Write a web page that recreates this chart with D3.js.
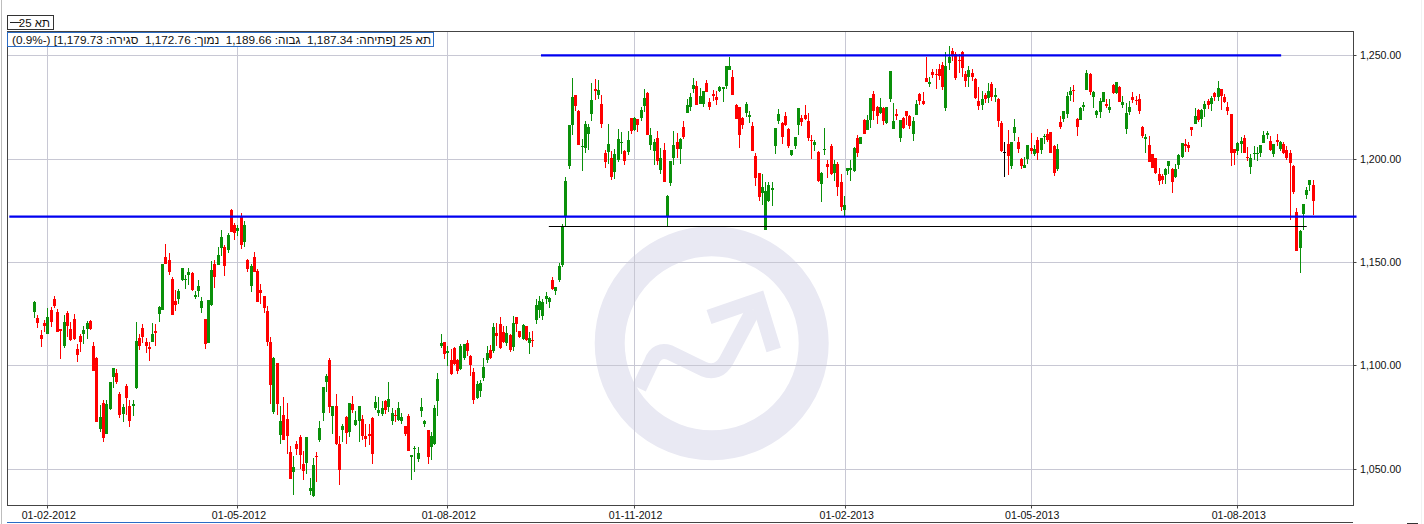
<!DOCTYPE html>
<html lang="he">
<head>
<meta charset="utf-8">
<title>TA-25 candlestick chart</title>
<script src="https://cdn.jsdelivr.net/npm/d3@7/dist/d3.min.js"></script>
<style>
html,body{margin:0;padding:0;background:#fff;}
svg{display:block;}
text{font-family:"Liberation Sans",Arial,sans-serif;fill:#111;}
</style>
</head>
<body>
<svg id="chart" width="1424" height="524"></svg>
<script>
const open = [
1126,1123.1,1114.7,1120.5,1115.2,1126.8,1132.1,1125.8,1117.6,1109.4,
1125.3,1117.4,1122.4,1107.9,1114.2,1115.2,1117.6,1121.5,1109.4,1103.5,
1069.2,1081.8,1066.8,1078.9,1094.4,1096.3,1086.1,1076.5,1090,1080.3,
1080.3,1089,1113.2,1118.1,1111.3,1108.9,1111.3,1116.6,1124.8,1126.8,
1152.4,1151,1141.8,1131.1,1132.1,1141.3,1141.3,1143.7,1144.7,1133.1,
1136,1127.7,1122.4,1110.8,1129.2,1149,1148.5,1156.8,1157.3,1155.8,
1175.2,1167.9,1165,1172.3,1159.7,1151,1138.4,1152.4,1145.6,1136.5,
1133.5,1126.3,1111.3,1077.4,1101.1,1066.3,1076,1074,1058.1,1048.4,
1061.9,1065.3,1052.3,1052.7,1039.2,1036.8,1056.1,1063.9,1076.9,1091.9,
1102.6,1075.5,1080.3,1061.9,1068.7,1075,1067.7,1081.3,1071.1,1073.1,
1074,1065.8,1066.8,1074.5,1079.4,1076.9,1076.5,1082.7,1079.8,1073.1,
1076,1073.5,1073.1,1070.6,1075.5,1055.6,1059.5,1054.7,1077.9,1071.6,
1068.7,1060.5,1061.9,1082.7,1109.4,1111.3,1106,1102.6,1108.4,1102.6,
1098.2,1103.5,1110.8,1104.6,1096.8,1084.1,1087.6,1093.9,1102.6,1107.5,
1107,1115.7,1120,1116.2,1110.8,1114.7,1108.9,1123.4,1116.7,1112.8,
1119.1,1110.8,1112.3,1122,1126.8,1123.9,1132.1,1130.7,1141.3,1136,
1141.3,1148.6,1171.8,1196.5,1216.3,1230.9,1223.1,1205.7,1205.2,1212,
1221.7,1233.8,1230.9,1226.5,1202.8,1203.3,1200.4,1193.6,1199.4,1207.6,
1203.8,1203.3,1219.7,1213.9,1219.2,1219.7,1225.5,1231.8,1206.7,1203.8,
1210,1194.6,1204.2,1172.1,1188.1,1200.2,1208,1204.6,1215.2,1222,
1224.9,1233.6,1235,1226.3,1226.3,1236.5,1227.3,1231.2,1229.7,1232.6,
1233.6,1235,1242.8,1239.4,1225.9,1224.9,1219.6,1222,1220,1215.7,
1201.2,1192.9,1183.3,1165.4,1179.4,1184.7,1206,1218.1,1217.1,1220.5,
1214.2,1201.7,1206,1216.2,1219.6,1221,1218.1,1208.9,1206.5,1203.1,
1187.6,1204.1,1197.3,1206,1192.9,1197.3,1188.6,1175,1193.9,1194.4,
1193.9,1209.9,1207,1218.6,1213.8,1218.6,1231.2,1224.9,1222,1224.4,
1217.1,1228.8,1214.2,1221.5,1209.9,1219.6,1222.9,1220.5,1211.8,1221,
1231.2,1227.8,1238.9,1236,1241.8,1240.8,1243.3,1245.2,1224.4,1246.2,
1252,1250.5,1247.6,1251.5,1240.8,1239.4,1241.3,1238.4,1227.8,1225.9,
1230.7,1229.2,1236,1229.7,1228.8,1217.1,1203.3,1207,1196.3,1212.3,
1207.9,1199.7,1195.4,1199.7,1205,1202.1,1208.9,1204.1,1210.4,1211.8,
1212.8,1206,1194.9,1217.6,1219.1,1221.5,1230.7,1233.1,1219.1,1218.6,
1224.9,1233.1,1240.8,1229.7,1221,1222.5,1227.3,1226.5,1223.6,1235.7,
1231.8,1234.7,1226,1214.4,1222.6,1229.9,1228.4,1228.9,1215.4,1209.6,
1206.7,1202.3,1200.4,1192.6,1191.7,1192.1,1196.5,1195,1191.2,1197,
1200.9,1207.1,1206.7,1215.4,1216.8,1223.6,1219.2,1224.1,1228,1226.5,
1231.8,1229.9,1233.8,1229.9,1225,1221.7,1204.7,1203.8,1207.1,1210,
1200.9,1196,1202.3,1202.3,1202.8,1207.6,1211.5,1208.6,1202.3,1209.1,
1204.7,1207.1,1204.2,1202.8,1196.5,1174.2,1156.8,1173.3,1182.5,1187.3,
1187.34];

const high = [
1131.1,1124.4,1117.1,1121.9,1127.6,1128.1,1133.5,1127.3,1117.6,1124.2,
1126.1,1121,1124.8,1110.3,1115.2,1119,1121.5,1121.9,1111.3,1104,
1080.8,1083.2,1083.2,1091.9,1098.7,1098.2,1087.1,1081.3,1091,1083.2,
1083.2,1121,1115.2,1120,1113.2,1111.3,1120.5,1120,1128.7,1149,
1158.7,1154.4,1142.7,1136.5,1136.9,1147.1,1143.7,1147.1,1145.2,1136,
1141.3,1133.1,1122.4,1131.6,1150.5,1151,1157.3,1165.5,1158.2,1164,
1175.6,1168.9,1167.9,1173.7,1169.8,1151.5,1149,1154.8,1146.6,1139.4,
1133.5,1128.7,1113.7,1104,1101.1,1080.3,1084.7,1081.8,1061,1056.1,
1063.4,1066.3,1058.5,1065.3,1045.5,1055.2,1058.1,1073.1,1089.5,1095.8,
1103.5,1080.3,1086.1,1065.8,1071.6,1075.5,1081.8,1085.2,1077.9,1080.3,
1076,1071.6,1071.6,1075,1085.2,1084.7,1082.7,1083.2,1091.9,1079.4,
1078.4,1082.3,1076.9,1070.6,1076.5,1056.6,1061,1060.5,1084.2,1073.5,
1068.7,1067.7,1080.8,1096.3,1115.2,1111.3,1109.4,1107.9,1108.9,1103.1,
1110.3,1110.3,1112.3,1105,1098.8,1092.5,1092.9,1103.6,1109.4,1109.9,
1120.5,1120.5,1123.4,1119.1,1119.1,1115.2,1123.9,1123.4,1116.7,1120,
1119.1,1116.2,1116.7,1132.1,1133.6,1132.1,1135.5,1133.1,1142.8,1138,
1149.6,1168.4,1191.2,1216.3,1239.1,1230.9,1223.6,1209.6,1218.3,1216.8,
1236.7,1238.6,1238.1,1230.9,1204.2,1216.8,1203.8,1204.7,1214.4,1212.9,
1204.2,1213.4,1219.7,1220.2,1219.2,1225,1233.8,1232.3,1214.9,1209.6,
1213.4,1205,1207.6,1182.3,1198.8,1213.3,1212.3,1209.9,1218.1,1228.8,
1231.7,1238.9,1237.5,1234.1,1232.6,1237.9,1229.2,1233.1,1232.6,1235,
1234.6,1244.7,1249.1,1242.8,1226.3,1224.9,1220,1227.3,1222.9,1217.6,
1202.6,1192.9,1192.5,1188.6,1188.6,1188.6,1214.7,1223.9,1217.6,1222.5,
1214.7,1204.1,1210.4,1224.4,1221,1225.9,1222,1211.3,1208.9,1203.6,
1193.4,1214.7,1199.2,1207,1199.2,1198.3,1192.5,1181.8,1195.4,1199.2,
1205.5,1211.3,1210.4,1219.1,1221,1229.2,1232.6,1225.4,1229.2,1224.9,
1224.9,1242.3,1226.8,1223.9,1218.6,1220,1222.9,1221,1220,1228.3,
1231.7,1232.1,1249.1,1239.4,1243.3,1243.3,1245.7,1246.7,1251.5,1254.4,
1253.4,1251.5,1250.5,1252,1242.3,1244.7,1243.3,1238.9,1234.6,1232.6,
1231.7,1236.5,1237,1234.1,1229.2,1218.1,1207.9,1213.8,1207.9,1219.1,
1210.4,1200.2,1200.7,1206.5,1212.3,1206.5,1210.4,1209.9,1211.8,1214.2,
1212.8,1206.5,1207,1220.5,1222.9,1232.1,1234.6,1235.5,1219.6,1224.9,
1227.3,1242.8,1241.3,1232.6,1223.4,1229.2,1232.1,1228.9,1228.9,1236.2,
1237.1,1235.2,1230.4,1227,1228,1232.3,1230.4,1231.3,1215.9,1212,
1211,1202.3,1200.4,1195.5,1192.6,1195.5,1198.9,1195.5,1197.5,1202.3,
1207.6,1209.6,1208.1,1215.4,1224.6,1224.1,1224.1,1228,1228.9,1230.4,
1232.3,1237.6,1233.8,1231.3,1227.5,1221.7,1204.7,1208.1,1210.5,1211.5,
1205.7,1202.3,1206.2,1205.7,1206.7,1213.4,1213.4,1211,1207.1,1212,
1208.6,1208.1,1206.2,1204.2,1197,1176.2,1165.5,1178.1,1186.3,1189.7,
1189.66];

const low = [
1122.7,1118.1,1109,1116.3,1115.2,1118.7,1127.7,1116.3,1103.1,1108.2,
1113.9,1111.9,1112.3,1101.6,1106.5,1110.3,1112.7,1117.1,1097.3,1072.6,
1067.7,1062.9,1066.8,1078.4,1089,1091,1074.5,1072.6,1076,1070.2,
1075.5,1088.5,1107.4,1110.8,1106,1102.1,1111.3,1109.4,1121,1126.8,
1149,1143.7,1124.4,1126.3,1129.7,1140.8,1136.9,1138.9,1136,1132.1,
1133.1,1125.3,1107.9,1110.8,1128.7,1137.4,1148.5,1152.9,1143.2,1154.4,
1164.5,1160.6,1162.6,1156.3,1157.3,1145.2,1135.5,1145.2,1130.6,1129.7,
1125.3,1109.4,1081.3,1076.5,1076,1061.9,1063.9,1057.1,1045,1037.3,
1056.6,1049.8,1044.5,1047.4,1037.3,1036.3,1043.5,1062.9,1073.1,1087.1,
1076.9,1066.8,1061.5,1042.1,1062.9,1061.9,1065.3,1076.9,1070.6,1062.9,
1063.9,1060.5,1061.5,1052.3,1078.4,1075.5,1075.5,1076.5,1077.4,1071.1,
1072.6,1073.1,1071.6,1065.8,1058.5,1044.5,1048.4,1053.2,1075,1070.2,
1052.3,1054.2,1061.5,1075.5,1108.4,1103.1,1099.7,1095.3,1100.2,1095.8,
1097.7,1102.6,1104.5,1094.9,1081.3,1083.7,1084.7,1092.5,1101.2,1103.1,
1106,1109.4,1107.9,1110.8,1109.4,1106.5,1107,1116.2,1113.3,1112.3,
1111.8,1105.5,1108.9,1120,1123,1122,1129.7,1127.8,1136.5,1134.1,
1140.4,1147.6,1167.5,1195,1211.5,1223.1,1206.7,1194.1,1202.8,1204.2,
1218.3,1228.4,1228.9,1214.9,1195.5,1197.5,1189.7,1190.2,1198.4,1202.3,
1197,1201.8,1212,1213.4,1212.9,1218.3,1222.6,1211.5,1204.2,1197,
1197,1192.6,1188.8,1167.3,1186.7,1196.8,1200.2,1197.3,1209.4,1222,
1222.9,1231.7,1225.9,1226.3,1224.9,1232.1,1223.4,1227.8,1225.9,1232.1,
1227.3,1233.6,1242.8,1230.7,1219.1,1205,1214.2,1220,1217.1,1203.6,
1186.7,1179.4,1177.5,1165.4,1178.9,1177,1202.1,1216.7,1207,1215.7,
1205,1201.2,1204.6,1211.3,1215.7,1218.6,1208.4,1199.7,1203.6,1188.6,
1178.9,1201.7,1190.5,1192,1189.1,1181.8,1174.6,1172.1,1192,1189.1,
1193.4,1200.7,1207,1211.8,1213.8,1214.7,1218.6,1216.7,1221.5,1216.2,
1216.7,1227.3,1214.2,1218.6,1207.9,1214.2,1216.2,1214.2,1208.4,1221,
1225.9,1225.9,1237,1234.6,1238.9,1233.6,1238,1233.1,1222.9,1242.8,
1247.1,1238,1241.3,1239.4,1234.6,1234.6,1237.5,1228.8,1223.4,1223.4,
1226.8,1226.8,1227.8,1227.3,1215.2,1203.1,1191,1192,1194.9,1208.4,
1202.6,1194.9,1195.4,1197.3,1202.1,1201.2,1199.2,1202.1,1207,1207.9,
1202.6,1191.5,1193.9,1214.2,1217.6,1219.6,1227.8,1227.3,1210.8,1218.6,
1222.9,1233.1,1230.7,1224.4,1219.6,1219.6,1227.3,1224.6,1222.1,1231.3,
1231.3,1227.5,1224.6,1212,1221.2,1227,1226,1221.7,1210,1202.8,
1198.4,1195.5,1192.6,1187.3,1187.8,1187.8,1192.6,1183.4,1190.7,1195,
1200.4,1203.3,1203.3,1211,1216.8,1217.8,1215.4,1220.2,1224.1,1223.1,
1228,1228,1223.6,1227,1221.2,1196.5,1197,1201.8,1202.8,1202.8,
1198.9,1192.6,1199.4,1198.9,1200.9,1207.6,1209.6,1203.8,1200.9,1206.2,
1203.8,1202.3,1199.4,1170.4,1182.9,1155.4,1144.7,1165.5,1180.5,1184.4,
1172.76];

const close = [
1130.8,1120.5,1112.9,1119,1123.4,1121.1,1128.7,1116.3,1116.6,1121,
1119,1112.3,1112.6,1105,1111.3,1117.1,1120.5,1117.6,1097.3,1072.6,
1075,1064.8,1081.3,1091.9,1098.7,1091.9,1076,1079.8,1084.2,1073.1,
1081.3,1111.8,1109.4,1113.7,1109.4,1107.9,1115.2,1115.6,1128.2,1149,
1149,1145.2,1124.4,1129.2,1136,1147.1,1141.8,1145.2,1136.5,1134,
1138.4,1131.1,1110.3,1131.6,1146.1,1142.7,1153.4,1162.1,1148.1,1163.1,
1164.5,1164,1166.5,1158.2,1167.9,1146.6,1148.1,1145.2,1130.6,1135,
1127.7,1111.3,1090.5,1103.5,1081.3,1073.1,1063.9,1065.8,1045,1050.8,
1059.5,1056.6,1048.9,1065.3,1040.6,1051.8,1055.6,1069.7,1089.5,1094.8,
1079.8,1080.3,1061.9,1049.4,1070.6,1067.3,1081.8,1078.4,1073.5,1080.3,
1065.8,1064.4,1065.8,1057.1,1082.3,1078.4,1079.4,1078.4,1083.7,1076.9,
1075.5,1079.4,1075,1066.8,1058.5,1056.6,1060,1057.6,1079.8,1073.1,
1055.6,1065.8,1079.4,1093.4,1110.8,1105.5,1106.9,1095.8,1100.6,1097.3,
1109.4,1110.3,1106.9,1100.2,1083.3,1091,1091.5,1099.2,1106,1103.6,
1118.6,1114.2,1108.4,1111.3,1115.7,1107.5,1120.5,1120,1113.6,1119.6,
1112.3,1113.3,1111.8,1129.2,1131.2,1130.7,1133.6,1132.6,1137,1138,
1148.1,1167,1189.2,1216.3,1229.9,1225.5,1206.7,1206.2,1216.8,1215.4,
1228.4,1232.8,1233.3,1216.8,1198.4,1207.1,1191.2,1202.3,1209.6,1208.1,
1198.9,1209.1,1213.4,1219.7,1216.3,1223.6,1229.4,1211.5,1211.5,1208.1,
1198.9,1200.4,1188.8,1181.8,1198.8,1206.5,1204.6,1209.4,1210.4,1225.9,
1229.7,1235.5,1225.9,1230.2,1232.6,1232.1,1224.9,1230.2,1228.3,1234.6,
1234.6,1244.7,1244.7,1230.7,1219.1,1211.3,1216.2,1226.3,1221,1203.6,
1190.5,1181.3,1186.2,1184.2,1187.1,1185.7,1214.7,1221.5,1210.4,1216.2,
1206,1204.1,1210.4,1224.4,1217.6,1219.1,1209.9,1208.4,1207.9,1189.1,
1192.9,1204.6,1195.8,1192.5,1197.3,1186.2,1176.5,1177.5,1195.4,1195.4,
1205,1202.6,1210.4,1211.8,1218.6,1229.2,1222.9,1220.5,1224.9,1218.1,
1224.9,1242.3,1218.1,1220.5,1218.6,1214.7,1220.5,1215.7,1218.1,1226.3,
1227.8,1226.3,1237,1237,1240.4,1240.4,1239.9,1234.6,1244.7,1249.1,
1249.6,1238.9,1247.1,1243.8,1237.5,1242.8,1239.4,1229.2,1225.4,1228.8,
1228.8,1232.6,1229.7,1230.7,1218.1,1203.6,1203.3,1201.2,1207.9,1215.2,
1204.6,1196.3,1196.8,1206.5,1203.6,1204.6,1202.6,1209.9,1210.8,1208.9,
1202.6,1192.9,1204.6,1215.2,1222.9,1230.2,1232.6,1232.6,1215.2,1224.4,
1225.9,1241.3,1232.1,1232.1,1222.9,1227.8,1232.1,1225.5,1225,1231.8,
1237.1,1227.5,1227.5,1222.1,1225,1228.4,1228,1223.1,1211,1210.5,
1198.4,1195.5,1193.1,1189.2,1189.7,1195,1198.9,1188.8,1195,1201.8,
1207.6,1206.2,1205.2,1213.9,1220.7,1218.8,1223.6,1226.5,1226,1229.4,
1229.9,1234.2,1230.4,1227.5,1223.1,1202.8,1202.8,1207.6,1208.6,1202.8,
1200.4,1200.4,1202.8,1202.8,1206.7,1211.5,1212.5,1204.2,1207.1,1208.1,
1208.1,1202.8,1200.4,1197.9,1183.9,1155.4,1165,1178.1,1184.9,1189.7,
1179.73];

const priceTicks = [1050, 1100, 1150, 1200, 1250];
const dateTickIndex = [4, 62, 126, 183, 247.4, 304, 367];
const dateTickLabels = ["01-02-2012","01-05-2012","01-08-2012","01-11-2012","01-02-2013","01-05-2013","01-08-2013"];

const blueLevels = [
  {from:154.6, to:380.4, value:1250},
  {from:-7.6, to:403.4, value:1172}
];
const blackLevels = [{from:157, to:388.2, value:1167.3}];

const legendLabel = "תא 25";
const infoLabel = "תא 25 [פתיחה: 1,187.34  גבוה: 1,189.66  נמוך: 1,172.76  סגירה: 1,179.73] (-\u200f0.9%)";

const svg = d3.select("#chart");
const plot = {left:7, right:1353, top:31, bottom:505};
const x = d3.scaleLinear().domain([0, 390]).range([34.2, 34.2 + 390 * 3.278]);
const y = d3.scaleLinear().domain([1050, 1250]).range([468.7, 55.4]);
const px = v => Math.round(v);

svg.append("rect").attr("x",1).attr("y",0).attr("width",1).attr("height",524).attr("fill","#bdbdbd");
svg.append("rect").attr("x",1421).attr("y",0).attr("width",1).attr("height",524).attr("fill","#f2f2f2");

// watermark
const wm = svg.append("g").attr("fill","none").attr("stroke","#e9e9f3");
const wx = X => 590 + X / 3, wy = Y => 220 + Y / 3;
wm.append("circle").attr("cx",711.7).attr("cy",343.3).attr("r",102).attr("stroke-width",30);
const linePath = d3.path();
linePath.moveTo(wx(147),wy(505));
linePath.lineTo(wx(185),wy(425));
linePath.quadraticCurveTo(wx(200),wy(385),wx(240),wy(398));
linePath.lineTo(wx(340),wy(447));
linePath.quadraticCurveTo(wx(385),wy(465),wx(410),wy(420));
linePath.lineTo(wx(490),wy(270));
wm.append("path").attr("d",linePath.toString()).attr("stroke-width",15);
const headPath = d3.path();
headPath.moveTo(wx(357),wy(291));
headPath.lineTo(wx(505),wy(240));
headPath.lineTo(wx(551),wy(390));
wm.append("path").attr("d",headPath.toString()).attr("stroke-width",15).attr("stroke-linejoin","miter");

// grid through the library's axes (the axis itself adds the half-pixel offset)
const gridColor = "#c8c8d4";
const gx = svg.append("g").attr("transform",`translate(0,${plot.bottom})`)
  .call(d3.axisBottom(x).tickValues(dateTickIndex).tickSize(-(plot.bottom-plot.top)).tickFormat(""));
gx.select(".domain").remove();
gx.selectAll("line").attr("stroke",gridColor).attr("x1",d=>px(x(d))-x(d)).attr("x2",d=>px(x(d))-x(d));
const gy = svg.append("g").attr("transform",`translate(${plot.right},0)`)
  .call(d3.axisLeft(y).tickValues(priceTicks).tickSize(plot.right-plot.left).tickFormat(""));
gy.select(".domain").remove();
gy.selectAll("line").attr("stroke",gridColor).attr("y1",d=>px(y(d))-y(d)).attr("y2",d=>px(y(d))-y(d));

// frame
svg.append("rect").attr("x",plot.left+0.5).attr("y",plot.top+0.5)
  .attr("width",plot.right-plot.left).attr("height",plot.bottom-plot.top)
  .attr("fill","none").attr("stroke","#444");

// axes
const ax = svg.append("g").attr("transform",`translate(0,${plot.bottom+0.5})`)
  .call(d3.axisBottom(x).tickValues(dateTickIndex).tickSize(3).tickPadding(3)
    .tickFormat((d,i)=>dateTickLabels[i]));
ax.select(".domain").remove();
ax.selectAll("line").attr("stroke","#444").attr("x1",d=>px(x(d))-x(d)).attr("x2",d=>px(x(d))-x(d));
ax.selectAll("text").attr("font-size","10.6px").attr("fill","#111").attr("dx","1");
const ay = svg.append("g").attr("transform",`translate(${plot.right+0.5},0)`)
  .call(d3.axisRight(y).tickValues(priceTicks).tickSize(3).tickPadding(3)
    .tickFormat(d3.format(",.2f")));
ay.select(".domain").remove();
ay.selectAll("line").attr("stroke","#444").attr("y1",d=>px(y(d))-y(d)).attr("y2",d=>px(y(d))-y(d));
ay.selectAll("text").attr("font-size","10.6px").attr("fill","#111").attr("dx","0.5");

// candles
const idx = d3.range(open.length);
const colorOf = i => close[i] > open[i] ? "#0a900a" : close[i] < open[i] ? "#ff0000" : "#000";
const candles = svg.append("g").attr("shape-rendering","crispEdges");
candles.selectAll(".wick").data(idx).join("rect").attr("class","wick")
  .attr("x",i=>px(x(i))).attr("width",1)
  .attr("y",i=>px(y(high[i]))).attr("height",i=>Math.max(1,px(y(low[i]))-px(y(high[i]))))
  .attr("fill",colorOf);
candles.selectAll(".body").data(idx).join("rect").attr("class","body")
  .attr("x",i=>px(x(i))-1).attr("width",3)
  .attr("y",i=>px(y(Math.max(open[i],close[i]))))
  .attr("height",i=>Math.max(1,px(y(Math.min(open[i],close[i])))-px(y(Math.max(open[i],close[i])))))
  .attr("fill",colorOf);

// level lines
svg.append("g").selectAll("line").data(blueLevels).join("line")
  .attr("x1",d=>x(d.from)).attr("x2",d=>x(d.to))
  .attr("y1",d=>y(d.value)).attr("y2",d=>y(d.value))
  .attr("stroke","#0000f0").attr("stroke-width",2.2);
svg.append("g").selectAll("line").data(blackLevels).join("line")
  .attr("x1",d=>x(d.from)).attr("x2",d=>x(d.to))
  .attr("y1",d=>px(y(d.value))+0.5).attr("y2",d=>px(y(d.value))+0.5)
  .attr("stroke","#000").attr("stroke-width",1);

// legend box
svg.append("rect").attr("x",7.5).attr("y",15.5).attr("width",46).attr("height",14)
  .attr("fill","#fff").attr("stroke","#333");
svg.append("line").attr("x1",10).attr("x2",21).attr("y1",22.5).attr("y2",22.5).attr("stroke","#222");
svg.append("text").attr("x",50).attr("y",26.5)
  .attr("font-size","11.5px").attr("fill","#111")
  .style("direction","rtl").style("text-anchor","start").text(legendLabel);

// info box
svg.append("rect").attr("x",7.5).attr("y",32.5).attr("width",426).attr("height",14)
  .attr("fill","#fff").attr("stroke","#2a6bc4");
svg.append("text").attr("x",431).attr("y",43.5)
  .style("direction","rtl").style("text-anchor","start").style("white-space","pre")
  .attr("xml:space","preserve").attr("font-size","11.75px").attr("fill","#111").text(infoLabel);

// bottom strip
svg.append("line").attr("x1",7).attr("x2",260).attr("y1",522.5).attr("y2",522.5).attr("stroke","#2a6bc4");
svg.append("line").attr("x1",260).attr("x2",1353).attr("y1",522.5).attr("y2",522.5).attr("stroke","#444");
svg.append("line").attr("x1",1407).attr("x2",1418).attr("y1",523.5).attr("y2",523.5).attr("stroke","#333");
</script>
</body>
</html>
